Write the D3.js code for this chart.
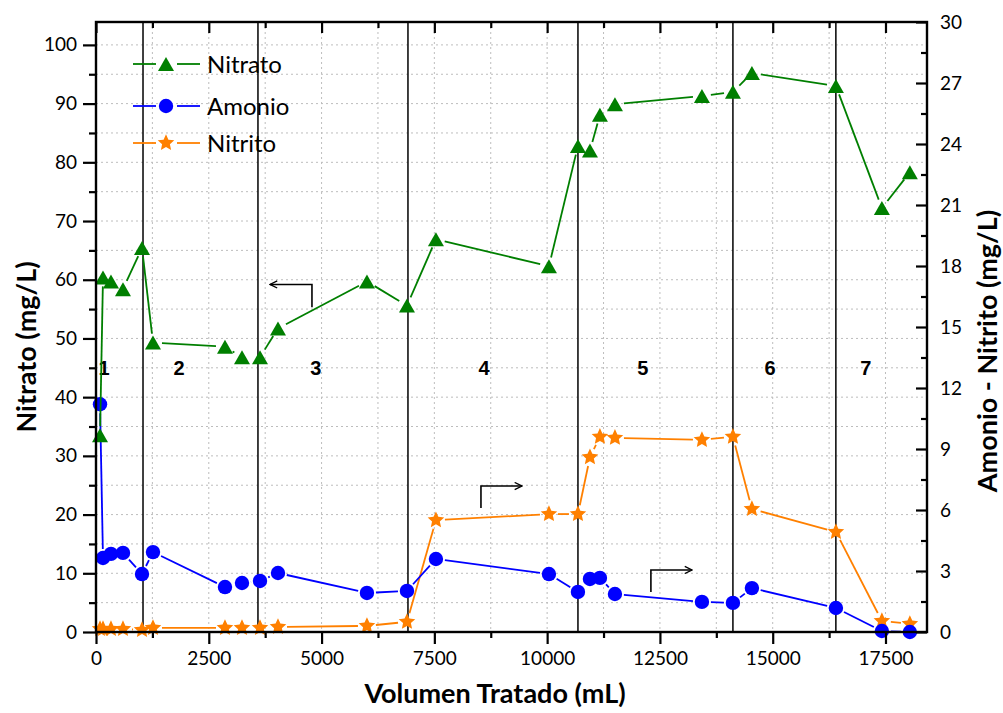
<!DOCTYPE html>
<html>
<head>
<meta charset="utf-8">
<script src="https://cdn.jsdelivr.net/npm/d3@7"></script>
<style>
  html, body { margin: 0; padding: 0; background: #fff; }
  svg { display: block; }
  .tick text { font-family: Lato, "Open Sans", sans-serif; }
</style>
</head>
<body>
<svg id="chart" width="1003" height="713"></svg>
<script>
// ---------- data ----------
const volumen = [89, 155, 332, 598, 1020, 1263, 2859, 3236, 3635, 4034, 6006, 6893, 7535, 10040, 10683, 10949, 11170, 11503, 13431, 14118, 14539, 16401, 17420, 18040];
const nitrato = [33.5, 60.4, 59.7, 58.4, 65.4, 49.3, 48.6, 46.8, 46.8, 51.7, 59.7, 55.6, 66.9, 62.3, 82.8, 82.0, 88.1, 89.9, 91.3, 92.0, 95.2, 93.0, 72.2, 78.3];
const amonio = [11.2, 3.64, 3.84, 3.89, 2.85, 3.93, 2.21, 2.41, 2.51, 2.90, 1.92, 2.02, 3.59, 2.85, 1.97, 2.61, 2.66, 1.87, 1.48, 1.43, 2.16, 1.18, 0.05, 0.0];
const nitrito = [0.15, 0.15, 0.15, 0.15, 0.1, 0.2, 0.2, 0.2, 0.2, 0.25, 0.3, 0.5, 5.5, 5.8, 5.8, 8.6, 9.6, 9.55, 9.45, 9.6, 6.05, 4.92, 0.54, 0.4];
const phaseBounds = [1042, 3590, 6915, 10683, 14118, 16400];
const phaseLabels = ["1", "2", "3", "4", "5", "6", "7"];
const phaseLabelX = [177, 1840, 4875, 8600, 12120, 14940, 17065];
const phaseLabelY = 45;  // in left-axis units
const xTicks = [0, 2500, 5000, 7500, 10000, 12500, 15000, 17500];
const yLeftTicks = [0, 10, 20, 30, 40, 50, 60, 70, 80, 90, 100];
const yRightTicks = [0, 3, 6, 9, 12, 15, 18, 21, 24, 27, 30];
const seriesNames = ["Nitrato", "Amonio", "Nitrito"];
// annotation arrows: [xVertical, yStart, yEnd, xEnd] (axis units)
const arrowLeft = [4787, 55.3, 59.2, 3857];   // left axis
const arrowRight1 = [8533, 6.1, 7.18, 9440];  // right axis
const arrowRight2 = [12300, 1.97, 3.05, 13210]; // right axis

// ---------- layout ----------
const L = 96, R = 927, T = 22, B = 632;
const svg = d3.select("#chart");

const x = d3.scaleLinear().domain([0, 18420]).range([L, R]);
const yL = d3.scaleLinear().domain([0, 103.9]).range([B, T]);
const yR = d3.scaleLinear().domain([0, 30]).range([B, T]);

const GREEN = "#007f00", BLUE = "#0000ff", ORANGE = "#ff8000";

// grid
const gGrid = svg.append("g");
gGrid.selectAll("line.gx").data(d3.range(1250, 18000, 1250)).enter().append("line")
  .attr("x1", d => x(d)).attr("x2", d => x(d)).attr("y1", T).attr("y2", B)
  .attr("stroke", "#bdbdbd").attr("stroke-width", 1).attr("stroke-dasharray", "2,3");
gGrid.selectAll("line.gy").data(d3.range(5, 104, 5)).enter().append("line")
  .attr("x1", L).attr("x2", R).attr("y1", d => yL(d)).attr("y2", d => yL(d))
  .attr("stroke", "#bdbdbd").attr("stroke-width", 1).attr("stroke-dasharray", "2,3");

// phase lines
svg.append("g").selectAll("line").data(phaseBounds).enter().append("line")
  .attr("x1", d => x(d)).attr("x2", d => x(d)).attr("y1", T).attr("y2", B)
  .attr("stroke", "#000").attr("stroke-width", 1.5);

// phase labels
svg.append("g").selectAll("text").data(phaseLabels).enter().append("text")
  .attr("x", (d, i) => x(phaseLabelX[i])).attr("y", yL(phaseLabelY) + 7)
  .attr("text-anchor", "middle")
  .attr("font-family", "'Liberation Sans', Arial, sans-serif").attr("font-weight", "bold")
  .attr("font-size", 20).text(d => d);

// series
function gappedSegments(pts, gap) {
  const segs = [];
  for (let i = 0; i < pts.length - 1; i++) {
    const [x1, y1] = pts[i], [x2, y2] = pts[i + 1];
    const dx = x2 - x1, dy = y2 - y1, len = Math.hypot(dx, dy);
    if (len <= 2 * gap) continue;
    const ux = dx / len, uy = dy / len;
    segs.push([x1 + ux * gap, y1 + uy * gap, x2 - ux * gap, y2 - uy * gap]);
  }
  return segs;
}
function trianglePath(cx, cy, w, h) {
  return `M${cx},${cy - h / 2}L${cx + w / 2},${cy + h / 2}L${cx - w / 2},${cy + h / 2}Z`;
}
function starPath(cx, cy, ro, ri) {
  let p = "";
  for (let k = 0; k < 10; k++) {
    const r = k % 2 === 0 ? ro : ri;
    const a = -Math.PI / 2 + k * Math.PI / 5;
    p += (k === 0 ? "M" : "L") + (cx + r * Math.cos(a)).toFixed(2) + "," + (cy + r * Math.sin(a)).toFixed(2);
  }
  return p + "Z";
}

const series = [
  { vals: nitrato, y: yL, color: GREEN, marker: "tri" },
  { vals: amonio, y: yR, color: BLUE, marker: "circle" },
  { vals: nitrito, y: yR, color: ORANGE, marker: "star" }
];
const drawOrder = [2, 1, 0];
drawOrder.forEach(si => {
  const s = series[si];
  const pts = volumen.map((v, i) => [x(v), s.y(s.vals[i])]);
  const g = svg.append("g");
  g.selectAll("line").data(gappedSegments(pts, 9)).enter().append("line")
    .attr("x1", d => d[0]).attr("y1", d => d[1]).attr("x2", d => d[2]).attr("y2", d => d[3])
    .attr("stroke", s.color).attr("stroke-width", 1.8);
  if (s.marker === "circle") {
    g.selectAll("circle").data(pts).enter().append("circle")
      .attr("cx", d => d[0]).attr("cy", d => d[1]).attr("r", 7.2).attr("fill", s.color);
  } else if (s.marker === "tri") {
    g.selectAll("path").data(pts).enter().append("path")
      .attr("d", d => trianglePath(d[0], d[1], 16, 14)).attr("fill", s.color);
  } else {
    g.selectAll("path").data(pts).enter().append("path")
      .attr("d", d => starPath(d[0], d[1], 8.7, 4.1)).attr("fill", s.color);
  }
});

// arrows
svg.append("defs").append("marker").attr("id", "arrowhead")
  .attr("viewBox", "0 0 10 10").attr("refX", 9).attr("refY", 5)
  .attr("markerWidth", 9).attr("markerHeight", 9).attr("markerUnits", "userSpaceOnUse")
  .attr("orient", "auto")
  .append("path").attr("d", "M1,1 L9,5 L1,9").attr("fill", "none").attr("stroke", "#000").attr("stroke-width", 1.4);
function drawArrow(a, yScale) {
  const [xv, y0, y1, xe] = a;
  svg.append("path")
    .attr("d", `M${x(xv)},${yScale(y0)}L${x(xv)},${yScale(y1)}L${x(xe)},${yScale(y1)}`)
    .attr("fill", "none").attr("stroke", "#000").attr("stroke-width", 1.6)
    .attr("marker-end", "url(#arrowhead)");
}
drawArrow(arrowLeft, yL);
drawArrow(arrowRight1, yR);
drawArrow(arrowRight2, yR);

// axes
const tickFont = 19;
function styleAxis(g) {
  g.select(".domain").remove();
  g.selectAll(".tick line").attr("stroke", "#000").attr("stroke-width", 2.2);
  g.selectAll(".tick text").attr("font-size", tickFont).attr("fill", "#000");
}
// bottom
const gB = svg.append("g").attr("transform", `translate(0,${B})`);
gB.call(d3.axisBottom(x).tickValues(xTicks).tickSize(12).tickPadding(4).tickFormat(d3.format("d"))).call(styleAxis);
gB.call(g => g.selectAll(".tick text").attr("dy", "0.9em"));
svg.append("g").attr("transform", `translate(0,${B})`)
  .call(d3.axisBottom(x).tickValues(d3.range(1250, 18400, 2500)).tickSize(6).tickFormat(""))
  .call(styleAxis);
// top (inward)
svg.append("g").attr("transform", `translate(0,${T})`)
  .call(d3.axisBottom(x).tickValues(xTicks).tickSize(11).tickFormat("")).call(styleAxis);
svg.append("g").attr("transform", `translate(0,${T})`)
  .call(d3.axisBottom(x).tickValues(d3.range(1250, 18400, 2500)).tickSize(6).tickFormat("")).call(styleAxis);
// left
svg.append("g").attr("transform", `translate(${L},0)`)
  .call(d3.axisLeft(yL).tickValues(yLeftTicks).tickSize(13).tickPadding(6)).call(styleAxis);
svg.append("g").attr("transform", `translate(${L},0)`)
  .call(d3.axisLeft(yL).tickValues(d3.range(5, 100, 10)).tickSize(7).tickFormat("")).call(styleAxis);
// right (ticks inward, labels outside)
const gRt = svg.append("g").attr("transform", `translate(${R},0)`)
  .call(d3.axisRight(yR).tickValues(yRightTicks).tickSize(-11).tickPadding(0)).call(styleAxis);
gRt.selectAll(".tick text").attr("x", 13).attr("text-anchor", "start");
svg.append("g").attr("transform", `translate(${R},0)`)
  .call(d3.axisRight(yR).tickValues(d3.range(1.5, 30, 3)).tickSize(-6).tickFormat("")).call(styleAxis);

// frame
svg.append("rect").attr("x", L).attr("y", T).attr("width", R - L).attr("height", B - T)
  .attr("fill", "none").attr("stroke", "#000").attr("stroke-width", 2.4);

// axis titles
const titleFont = "Lato, 'Open Sans', sans-serif";
svg.append("text").attr("x", 495).attr("y", 703).attr("text-anchor", "middle")
  .attr("font-family", titleFont).attr("font-weight", "bold").attr("font-size", 27)
  .text("Volumen Tratado (mL)");
svg.append("text").attr("transform", "translate(36,347) rotate(-90)").attr("text-anchor", "middle")
  .attr("font-family", titleFont).attr("font-weight", "bold").attr("font-size", 27)
  .text("Nitrato (mg/L)");
svg.append("text").attr("transform", "translate(997,351) rotate(-90)").attr("text-anchor", "middle")
  .attr("font-family", titleFont).attr("font-weight", "bold").attr("font-size", 27)
  .text("Amonio - Nitrito (mg/L)");

// legend
const legY = [64, 106, 143];
const legG = svg.append("g");
series.forEach((s, i) => {
  const cy = legY[i], cx = 166;
  legG.append("line").attr("x1", 133).attr("x2", 156).attr("y1", cy).attr("y2", cy).attr("stroke", s.color).attr("stroke-width", 1.8);
  legG.append("line").attr("x1", 177).attr("x2", 200).attr("y1", cy).attr("y2", cy).attr("stroke", s.color).attr("stroke-width", 1.8);
  if (s.marker === "circle") legG.append("circle").attr("cx", cx).attr("cy", cy).attr("r", 7.2).attr("fill", s.color);
  else if (s.marker === "tri") legG.append("path").attr("d", trianglePath(cx, cy, 16, 14)).attr("fill", s.color);
  else legG.append("path").attr("d", starPath(cx, cy, 8.7, 4.1)).attr("fill", s.color);
  legG.append("text").attr("x", 207).attr("y", cy + 9).attr("font-family", titleFont)
    .attr("font-size", 24).text(seriesNames[i]);
});
</script>
</body>
</html>
